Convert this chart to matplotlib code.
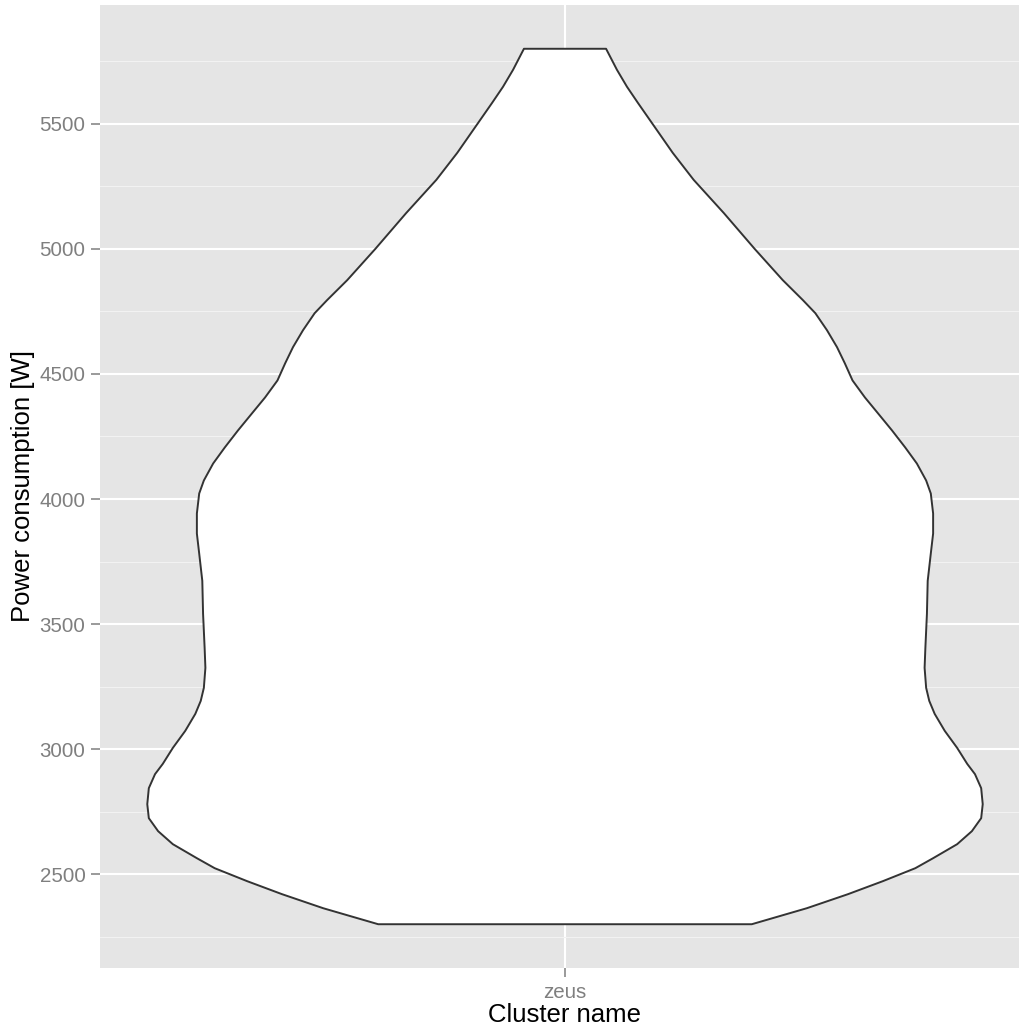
import numpy as np
import matplotlib
matplotlib.use("Agg")
import matplotlib.pyplot as plt
from matplotlib.ticker import MultipleLocator

# violin outline: power level [W] and half width (x units)
power = [2300, 2364, 2420, 2472, 2524, 2564, 2620, 2672, 2724, 2780, 2844,
         2900, 2941, 3005, 3073, 3141, 3193, 3245, 3325, 3405, 3541, 3673,
         3782, 3862, 3942, 4022, 4074, 4142, 4206, 4274, 4342, 4406, 4474,
         4543, 4607, 4675, 4743, 4795, 4875, 4999, 5143, 5276, 5384, 5504,
         5584, 5648, 5716, 5800]
half_width = [0.241, 0.312, 0.365, 0.410, 0.452, 0.475, 0.506, 0.525, 0.537,
              0.539, 0.537, 0.529, 0.519, 0.506, 0.490, 0.477, 0.470, 0.466,
              0.464, 0.465, 0.467, 0.468, 0.472, 0.475, 0.475, 0.472, 0.466,
              0.454, 0.439, 0.422, 0.404, 0.387, 0.371, 0.361, 0.351, 0.338,
              0.323, 0.307, 0.281, 0.245, 0.205, 0.166, 0.139, 0.112, 0.094,
              0.080, 0.067, 0.053]
clusters = ["zeus"]
yticks = [2500, 3000, 3500, 4000, 4500, 5000, 5500]

plt.rcParams['font.family'] = ['Liberation Sans', 'DejaVu Sans']

W, H = 1019, 1028
fig = plt.figure(figsize=(W / 100, H / 100), dpi=100)
ax = fig.add_axes([100 / W, 60 / H, 930 / W, 963 / H])
ax.set_facecolor('#E5E5E5')

y = np.array(power)
hw = np.array(half_width)
xs = np.concatenate([1 - hw, (1 + hw)[::-1]])
ys = np.concatenate([y, y[::-1]])
ax.fill(xs, ys, facecolor='white', edgecolor='#333333', linewidth=1.4,
        joinstyle='round', zorder=3)

ax.set_xlim(0.4, 1.6)
ax.set_ylim(2125, 5975)
ax.set_xticks([1])
ax.set_xticklabels(clusters)
ax.set_yticks(yticks)
ax.yaxis.set_minor_locator(MultipleLocator(250))

ax.grid(which='major', color='white', linewidth=1.5, zorder=0)
ax.grid(which='minor', axis='y', color='#F2F2F2', linewidth=0.8, zorder=0)
ax.set_axisbelow(True)
for s in ax.spines.values():
    s.set_visible(False)

ax.tick_params(which='major', length=6.5, width=1.1, color='#7F7F7F',
               labelcolor='#7F7F7F', labelsize=14.8, pad=4)
ax.tick_params(which='minor', length=0)

ax.set_xlabel("Cluster name", fontsize=18.5, color='black')
ax.set_ylabel("Power consumption [W]", fontsize=18.5, color='black')
ax.xaxis.set_label_coords(0.5, -(1015 - 968) / 963)
ax.xaxis.label.set_va('center')
ax.yaxis.set_label_coords((23 - 100) / 930, 0.5)
ax.yaxis.label.set_va('center')

fig.savefig("out.png", dpi=100)
